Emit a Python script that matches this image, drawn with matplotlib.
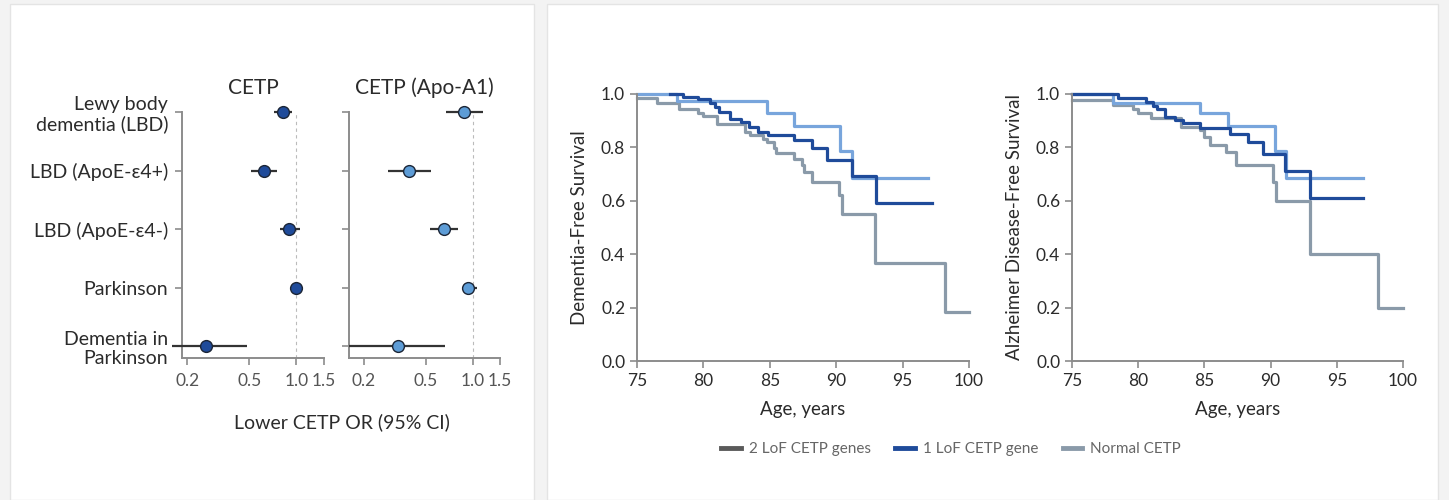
#---------------------------------------------------------------------------------------------------
# Imports
#---------------------------------------------------------------------------------------------------

import numpy as np
import matplotlib as mpl
mpl.use('Agg')
import matplotlib.pyplot as plt
from matplotlib.patches import Rectangle
from matplotlib.lines import Line2D

#---------------------------------------------------------------------------------------------------
# Global Parameters
#---------------------------------------------------------------------------------------------------

mpl.rcParams['font.family'] = ['Lato', 'DejaVu Sans']
mpl.rcParams['font.size'] = 12.5

W, H = 1449, 500

#---------------------------------------------------------------------------------------------------
# Data
#---------------------------------------------------------------------------------------------------

# forest plot rows (top to bottom)
outcomes = ['Lewy body\ndementia (LBD)', 'LBD (ApoE-\u03b54+)', 'LBD (ApoE-\u03b54-)',
            'Parkinson', 'Dementia in\nParkinson']

cetp_or = [0.825, 0.62, 0.90, 0.99, 0.265]
cetp_lo = [0.72, 0.51, 0.79, 0.96, 0.16]
cetp_hi = [0.94, 0.75, 1.05, 1.02, 0.485]

apoa1_or = [0.875, 0.39, 0.65, 0.93, 0.33]
apoa1_lo = [0.67, 0.285, 0.53, 0.86, 0.16]
apoa1_hi = [1.16, 0.54, 0.81, 1.06, 0.66]

or_ticks = [0.2, 0.5, 1.0, 1.5]

# Kaplan-Meier, dementia
lof2_dem_t = [75, 78.0, 84.8, 86.8, 90.3, 91.2, 96.9]
lof2_dem_s = [1.0, 0.972, 0.929, 0.880, 0.785, 0.685, 0.685]
lof1_dem_t = [77.5, 78.5, 79.6, 80.5, 80.9, 81.2, 82.0, 82.8, 83.4, 84.1, 84.9, 86.8, 88.2, 89.3,
              91.2, 93.0, 97.2]
lof1_dem_s = [1.0, 0.988, 0.98, 0.965, 0.953, 0.934, 0.905, 0.896, 0.875, 0.859, 0.846, 0.828,
              0.797, 0.753, 0.694, 0.593, 0.593]
norm_dem_t = [75, 76.5, 78.2, 79.6, 80.0, 81.0, 83.1, 83.5, 84.5, 84.8, 85.3, 85.5, 86.8, 87.4,
              87.6, 88.2, 90.2, 90.4, 92.9, 98.2, 100]
norm_dem_s = [0.985, 0.968, 0.945, 0.93, 0.918, 0.886, 0.859, 0.846, 0.83, 0.82, 0.797, 0.778,
              0.757, 0.734, 0.707, 0.672, 0.622, 0.549, 0.366, 0.185, 0.185]

# Kaplan-Meier, Alzheimer disease
lof2_ad_t = [75, 78.1, 84.7, 86.8, 90.3, 91.2, 97.0]
lof2_ad_s = [1.0, 0.968, 0.929, 0.881, 0.786, 0.687, 0.687]
lof1_ad_t = [75, 78.5, 80.6, 81.1, 81.4, 82.0, 82.8, 83.4, 84.7, 86.9, 88.3, 89.4, 91.1, 93.0, 97.0]
lof1_ad_s = [1.0, 0.985, 0.97, 0.955, 0.944, 0.915, 0.903, 0.89, 0.874, 0.849, 0.819, 0.775,
             0.712, 0.609, 0.609]
norm_ad_t = [75, 78.1, 79.6, 80.0, 81.0, 83.2, 84.7, 85.0, 85.4, 86.6, 87.4, 90.2, 90.4, 93.0,
             98.1, 100]
norm_ad_s = [0.978, 0.96, 0.945, 0.93, 0.91, 0.878, 0.865, 0.84, 0.809, 0.784, 0.734, 0.672,
             0.6, 0.4, 0.2, 0.2]

legend_labels = ['2 LoF CETP genes', '1 LoF CETP gene', 'Normal CETP']

#---------------------------------------------------------------------------------------------------
# Styles
#---------------------------------------------------------------------------------------------------

DARK_BLUE = '#1f4b9a'
LIGHT_BLUE = '#78a5dc'
MARK_LIGHT = '#5d9cd6'
GRAY = '#8a9aa9'
SPINE = '#8c8c8c'
TEXT = '#2b2b2b'
TICKTXT = '#555555'

#---------------------------------------------------------------------------------------------------
# Helpers
#---------------------------------------------------------------------------------------------------

# axes rectangle from pixel box (left, top, right, bottom)
def px_axes(fig, l, t, r, b):
    ax = fig.add_axes([l / W, (H - b) / H, (r - l) / W, (b - t) / H])
    ax.patch.set_alpha(0)
    return ax


def style_spines(ax):
    for s in ['top', 'right']:
        ax.spines[s].set_visible(False)
    for s in ['left', 'bottom']:
        ax.spines[s].set_color(SPINE)
        ax.spines[s].set_linewidth(1.4)
    ax.tick_params(direction='out', length=5, width=1.2, color=SPINE, labelcolor=TICKTXT)


def forest(ax, est, lo, hi, color, xmin, labels):
    y = np.arange(len(est))
    ax.set_xscale('log')
    ax.set_xlim(xmin, 1.5)
    ax.set_ylim(4.2, 0)
    ax.axvline(1.0, color='#bbbbbb', lw=0.8, ls=(0, (3, 3)), zorder=0)
    xerr = [np.array(est) - np.array(lo), np.array(hi) - np.array(est)]
    ax.errorbar(est, y, xerr=xerr, fmt='o', ms=8.5, mfc=color, mec='#1b2536', mew=1.0,
                ecolor='#333333', elinewidth=1.6, capsize=0, clip_on=False, zorder=3)
    style_spines(ax)
    ax.set_xticks(or_ticks)
    ax.set_xticklabels(['0.2', '0.5', '1.0', '1.5'])
    ax.xaxis.set_minor_locator(mpl.ticker.NullLocator())
    ax.tick_params(axis='x', labelsize=12.5, pad=6)
    ax.tick_params(axis='y', pad=5)
    ax.set_yticks(y)
    if labels:
        ax.set_yticklabels(outcomes, color=TEXT, fontsize=14, linespacing=1.15)
    else:
        ax.set_yticklabels([])


def km(ax, ylabel):
    ax.step(norm_t, norm_s, where='post', color=GRAY, lw=2.3, clip_on=False)
    ax.step(lof2_t, lof2_s, where='post', color=LIGHT_BLUE, lw=2.3, clip_on=False)
    ax.step(lof1_t, lof1_s, where='post', color=DARK_BLUE, lw=2.3, clip_on=False)
    ax.set_xlim(75, 100)
    ax.set_ylim(0, 1.0)
    ax.set_xticks(np.arange(75, 101, 5))
    ax.set_yticks(np.arange(0, 1.01, 0.2))
    ax.yaxis.set_major_formatter(mpl.ticker.FormatStrFormatter('%.1f'))
    style_spines(ax)
    ax.tick_params(labelsize=12.5, labelcolor=TEXT)
    ax.set_xlabel('Age, years', color=TEXT, fontsize=13.5, labelpad=9)
    ax.set_ylabel(ylabel, color=TEXT, fontsize=13.5, labelpad=9)

#---------------------------------------------------------------------------------------------------
# Figure
#---------------------------------------------------------------------------------------------------

fig = plt.figure(figsize=(W / 100, H / 100), dpi=100, facecolor='#f3f3f3')

# white cards
for (l, r) in [(10, 534), (547, 1438)]:
    fig.patches.append(Rectangle((l / W, 0), (r - l) / W, (H - 4) / H, transform=fig.transFigure,
                                 facecolor='white', edgecolor='#e4e4e4', lw=1.0, zorder=-10))

# forest panels
ax1 = px_axes(fig, 182, 112, 324, 358)
forest(ax1, cetp_or, cetp_lo, cetp_hi, DARK_BLUE, 0.185, True)
ax1.set_title('CETP', color=TEXT, fontsize=15, pad=13)

ax2 = px_axes(fig, 349, 112, 500, 358)
forest(ax2, apoa1_or, apoa1_lo, apoa1_hi, MARK_LIGHT, 0.16, False)
ax2.set_title('CETP (Apo-A1)', color=TEXT, fontsize=15, pad=13)

fig.text(342 / W, 1 - 422 / H, 'Lower CETP OR (95% CI)', ha='center', va='center',
         color=TEXT, fontsize=14)

# survival panels
ax3 = px_axes(fig, 637, 94, 969, 361)
norm_t, norm_s = norm_dem_t, norm_dem_s
lof2_t, lof2_s = lof2_dem_t, lof2_dem_s
lof1_t, lof1_s = lof1_dem_t, lof1_dem_s
km(ax3, 'Dementia-Free Survival')

ax4 = px_axes(fig, 1072, 94, 1403, 361)
norm_t, norm_s = norm_ad_t, norm_ad_s
lof2_t, lof2_s = lof2_ad_t, lof2_ad_s
lof1_t, lof1_s = lof1_ad_t, lof1_ad_s
km(ax4, 'Alzheimer Disease-Free Survival')

handles = [Line2D([], [], color=c, lw=3.5) for c in ['#5a5a5a', DARK_BLUE, GRAY]]
leg = fig.legend(handles, legend_labels, loc='center', ncol=3, frameon=False,
                 bbox_to_anchor=(951 / W, 1 - 449 / H), handlelength=1.3, handletextpad=0.5,
                 columnspacing=1.6, fontsize=11)
for t in leg.get_texts():
    t.set_color('#666666')

fig.savefig('out.png', dpi=100, facecolor=fig.get_facecolor())
